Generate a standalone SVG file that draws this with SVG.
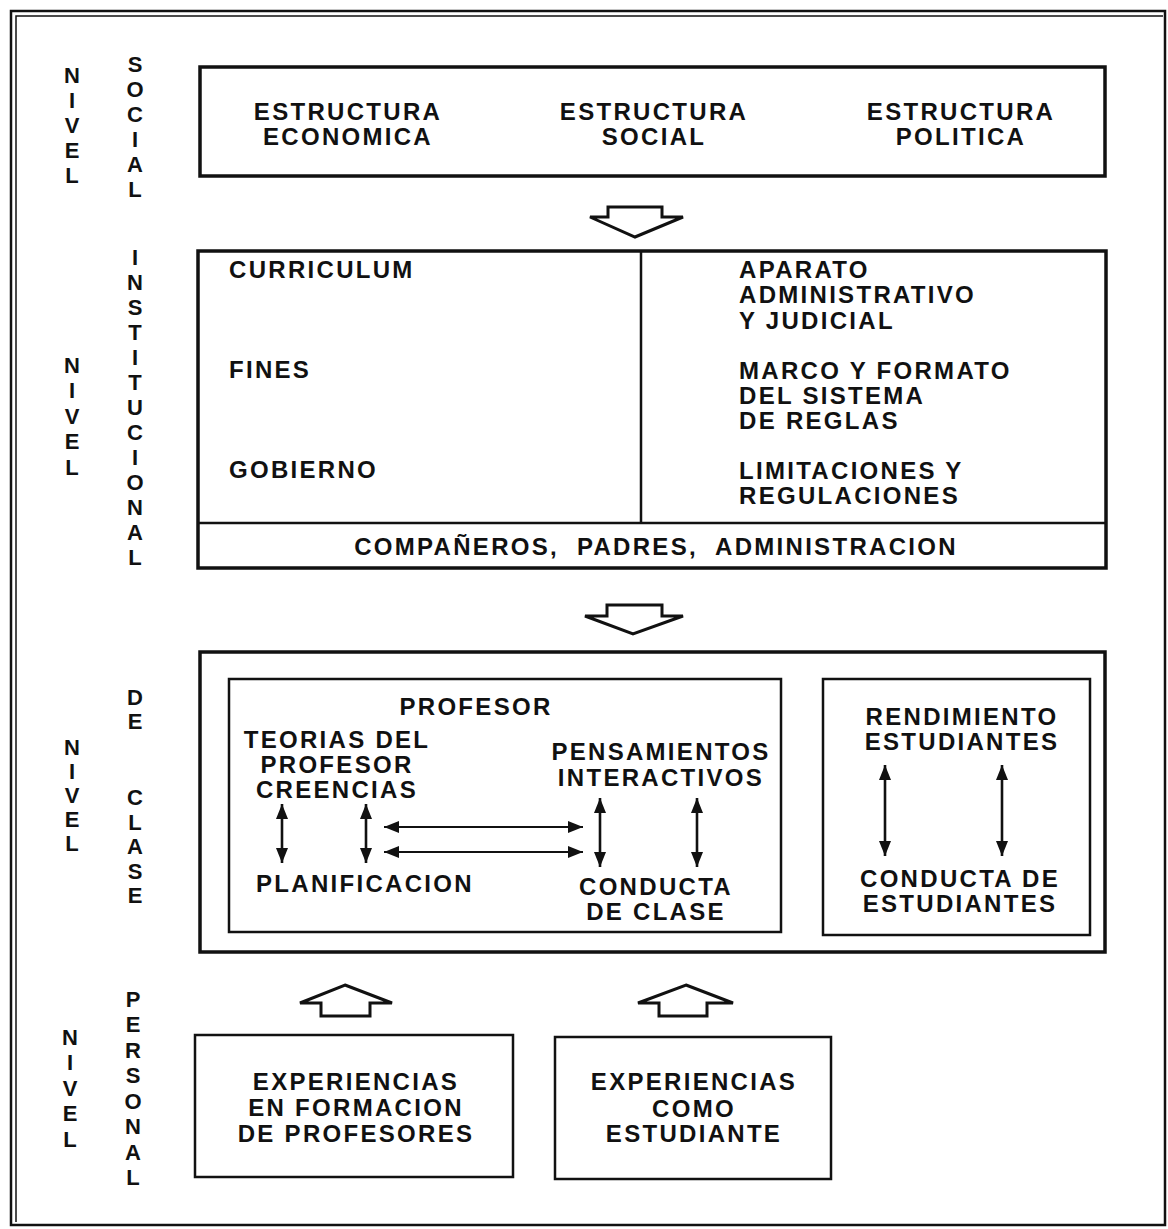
<svg xmlns="http://www.w3.org/2000/svg" width="1168" height="1229" viewBox="0 0 1168 1229">
<defs>
<style>
text{font-family:"Liberation Sans",Arial,sans-serif;font-weight:bold;font-size:24px;letter-spacing:2.3px;fill:#111}
.c{text-anchor:middle}
.v{font-size:22px;letter-spacing:0;text-anchor:middle}
.box{fill:none;stroke:#111;stroke-width:2.5}
.thick{fill:none;stroke:#111;stroke-width:3.5}
.hollow{fill:#fff;stroke:#111;stroke-width:3;stroke-linejoin:miter}
.va{stroke:#111;stroke-width:2.6;marker-start:url(#ah);marker-end:url(#ah)}
.ha{stroke:#111;stroke-width:1.8;marker-start:url(#ah);marker-end:url(#ah)}
</style>
<marker id="ah" markerUnits="userSpaceOnUse" markerWidth="16" markerHeight="13" refX="15" refY="6" orient="auto-start-reverse" viewBox="0 0 16 12">
<path d="M0,0 L15,6 L0,12 z" fill="#111"/>
</marker>
</defs>
<rect width="1168" height="1229" fill="#fff"/>

<g id="frame">
<rect x="11" y="11" width="1154" height="1214" class="box"/>
<polyline points="16,1222 16,16 1163,16" fill="none" stroke="#111" stroke-width="1.5"/>
</g>

<g id="labels">
<text class="v"><tspan x="72" y="83">N</tspan><tspan x="72" y="108">I</tspan><tspan x="72" y="133">V</tspan><tspan x="72" y="158">E</tspan><tspan x="72" y="183">L</tspan></text>
<text class="v"><tspan x="135" y="72">S</tspan><tspan x="135" y="97">O</tspan><tspan x="135" y="122">C</tspan><tspan x="135" y="147">I</tspan><tspan x="135" y="172">A</tspan><tspan x="135" y="197">L</tspan></text>
<text class="v"><tspan x="72" y="373">N</tspan><tspan x="72" y="398">I</tspan><tspan x="72" y="424">V</tspan><tspan x="72" y="449">E</tspan><tspan x="72" y="475">L</tspan></text>
<text class="v"><tspan x="135" y="265">I</tspan><tspan x="135" y="290">N</tspan><tspan x="135" y="315">S</tspan><tspan x="135" y="340">T</tspan><tspan x="135" y="365">I</tspan><tspan x="135" y="390">T</tspan><tspan x="135" y="415">U</tspan><tspan x="135" y="440">C</tspan><tspan x="135" y="465">I</tspan><tspan x="135" y="490">O</tspan><tspan x="135" y="515">N</tspan><tspan x="135" y="540">A</tspan><tspan x="135" y="565">L</tspan></text>
<text class="v"><tspan x="72" y="755">N</tspan><tspan x="72" y="779">I</tspan><tspan x="72" y="803">V</tspan><tspan x="72" y="827">E</tspan><tspan x="72" y="851">L</tspan></text>
<text class="v"><tspan x="135" y="705">D</tspan><tspan x="135" y="729">E</tspan><tspan x="135" y="805">C</tspan><tspan x="135" y="830">L</tspan><tspan x="135" y="854">A</tspan><tspan x="135" y="879">S</tspan><tspan x="135" y="903">E</tspan></text>
<text class="v"><tspan x="70" y="1045">N</tspan><tspan x="70" y="1070">I</tspan><tspan x="70" y="1096">V</tspan><tspan x="70" y="1121">E</tspan><tspan x="70" y="1147">L</tspan></text>
<text class="v"><tspan x="133" y="1007">P</tspan><tspan x="133" y="1032">E</tspan><tspan x="133" y="1058">R</tspan><tspan x="133" y="1083">S</tspan><tspan x="133" y="1109">O</tspan><tspan x="133" y="1134">N</tspan><tspan x="133" y="1160">A</tspan><tspan x="133" y="1185">L</tspan></text>
</g>

<g id="nivel-social">
<rect x="200" y="67" width="905" height="109" class="thick"/>
<text class="c"><tspan x="348" y="120">ESTRUCTURA</tspan><tspan x="348" y="145">ECONOMICA</tspan></text>
<text class="c"><tspan x="654" y="120">ESTRUCTURA</tspan><tspan x="654" y="145">SOCIAL</tspan></text>
<text class="c"><tspan x="961" y="120">ESTRUCTURA</tspan><tspan x="961" y="145">POLITICA</tspan></text>
</g>

<g id="nivel-institucional">
<rect x="198" y="251" width="908" height="317" class="thick"/>
<line x1="641" y1="251" x2="641" y2="523" stroke="#111" stroke-width="2.5"/>
<line x1="198" y1="523" x2="1106" y2="523" stroke="#111" stroke-width="2.5"/>
<text x="229" y="278">CURRICULUM</text>
<text x="229" y="378">FINES</text>
<text x="229" y="478">GOBIERNO</text>
<text x="739" y="278">APARATO</text>
<text x="739" y="303">ADMINISTRATIVO</text>
<text x="739" y="329">Y JUDICIAL</text>
<text x="739" y="379">MARCO Y FORMATO</text>
<text x="739" y="404">DEL SISTEMA</text>
<text x="739" y="429">DE REGLAS</text>
<text x="739" y="479">LIMITACIONES Y</text>
<text x="739" y="504">REGULACIONES</text>
<text class="c" x="656" y="555" xml:space="preserve">COMPAÑEROS,  PADRES,  ADMINISTRACION</text>
</g>

<g id="nivel-clase">
<rect x="200" y="652" width="905" height="300" class="thick"/>
</g>

<g id="profesor">
<rect x="229" y="679" width="552" height="253" class="box"/>
<text class="c" x="476" y="715">PROFESOR</text>
<text class="c"><tspan x="337" y="748">TEORIAS DEL</tspan><tspan x="337" y="773">PROFESOR</tspan><tspan x="337" y="798">CREENCIAS</tspan></text>
<text class="c"><tspan x="661" y="760">PENSAMIENTOS</tspan><tspan x="661" y="786">INTERACTIVOS</tspan></text>
<text class="c" x="365" y="892">PLANIFICACION</text>
<text class="c"><tspan x="656" y="895">CONDUCTA</tspan><tspan x="656" y="920">DE CLASE</tspan></text>
</g>

<g id="estudiantes">
<rect x="823" y="679" width="267" height="256" class="box"/>
<text class="c"><tspan x="962" y="725">RENDIMIENTO</tspan><tspan x="962" y="750">ESTUDIANTES</tspan></text>
<text class="c"><tspan x="960" y="887">CONDUCTA DE</tspan><tspan x="960" y="912">ESTUDIANTES</tspan></text>
</g>

<g id="exp-formacion">
<rect x="195" y="1035" width="318" height="142" class="box"/>
<text class="c"><tspan x="356" y="1090">EXPERIENCIAS</tspan><tspan x="356" y="1116">EN FORMACION</tspan><tspan x="356" y="1142">DE PROFESORES</tspan></text>
</g>

<g id="exp-estudiante">
<rect x="555" y="1037" width="276" height="142" class="box"/>
<text class="c"><tspan x="694" y="1090">EXPERIENCIAS</tspan><tspan x="694" y="1117">COMO</tspan><tspan x="694" y="1142">ESTUDIANTE</tspan></text>
</g>

<g id="connectors">
<polygon class="hollow" points="608,207 662,207 662,217 683,217 635,237 590,217 608,217"/>
<polygon class="hollow" points="607,605 662,605 662,616 683,616 633,634 585,616 607,616"/>
<polygon class="hollow" points="345,985 392,1003 370,1003 370,1016 321,1016 321,1003 300,1003"/>
<polygon class="hollow" points="686,985 733,1003 707,1003 707,1016 659,1016 659,1003 638,1003"/>
<line class="va" x1="282" y1="804" x2="282" y2="863"/>
<line class="va" x1="366" y1="804" x2="366" y2="863"/>
<line class="va" x1="600" y1="798" x2="600" y2="867"/>
<line class="va" x1="697" y1="798" x2="697" y2="867"/>
<line class="ha" x1="384" y1="827" x2="583" y2="827"/>
<line class="ha" x1="384" y1="852" x2="583" y2="852"/>
<line class="va" x1="885" y1="765" x2="885" y2="856"/>
<line class="va" x1="1002" y1="765" x2="1002" y2="856"/>
</g>
</svg>
